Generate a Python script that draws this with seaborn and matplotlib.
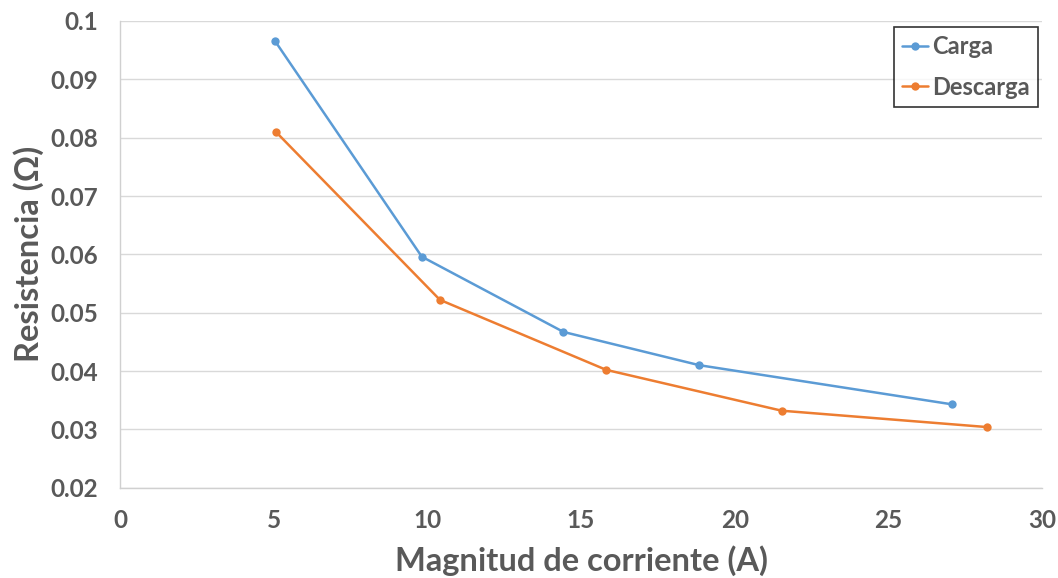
import matplotlib
matplotlib.use("Agg")
import matplotlib.pyplot as plt
import seaborn as sns
import pandas as pd

# Measured resistance versus current magnitude
carga_corriente = [5.04, 9.82, 14.43, 18.85, 27.06]
carga_resistencia = [0.0966, 0.0596, 0.0467, 0.0410, 0.0343]
descarga_corriente = [5.09, 10.41, 15.82, 21.53, 28.20]
descarga_resistencia = [0.0809, 0.0522, 0.0402, 0.0332, 0.0304]

series = ["Carga", "Descarga"]
colores = ["#5b9bd5", "#ed7d31"]
x_ticks = [0, 5, 10, 15, 20, 25, 30]
y_ticks = [0.02, 0.03, 0.04, 0.05, 0.06, 0.07, 0.08, 0.09, 0.1]
y_tick_labels = ["0.02", "0.03", "0.04", "0.05", "0.06", "0.07", "0.08", "0.09", "0.1"]

df = pd.concat([
    pd.DataFrame({"I": carga_corriente, "R": carga_resistencia, "serie": series[0]}),
    pd.DataFrame({"I": descarga_corriente, "R": descarga_resistencia, "serie": series[1]}),
])

sns.set_style("white")
plt.rcParams["font.family"] = ["Lato", "DejaVu Sans"]
gris = "#595959"

fig = plt.figure(figsize=(10.58, 5.78), dpi=100)
ax = fig.add_axes([0.1134, 0.1562, 0.8715, 0.8075])

sns.lineplot(data=df, x="I", y="R", hue="serie", palette=colores, marker="o",
             markersize=6, markeredgewidth=0, linewidth=1.8, sort=False,
             estimator=None, ax=ax)

ax.set_xlim(0, 30)
ax.set_ylim(0.02, 0.1)
ax.set_xticks(x_ticks)
ax.set_yticks(y_ticks)
ax.set_yticklabels(y_tick_labels)
ax.tick_params(axis="both", length=0, labelsize=17.5, labelcolor=gris)
ax.tick_params(axis="x", pad=15)
ax.tick_params(axis="y", pad=16)
for lab in ax.get_xticklabels() + ax.get_yticklabels():
    lab.set_fontweight("bold")

ax.grid(axis="y", color="#d9d9d9", linewidth=1)
ax.grid(axis="x", visible=False)
for s in ["top", "right"]:
    ax.spines[s].set_visible(False)
for s in ["left", "bottom"]:
    ax.spines[s].set_color("#d0d0d0")
    ax.spines[s].set_linewidth(1)

ax.set_xlabel("Magnitud de corriente (A)", fontsize=23.5, fontweight="bold",
              color=gris, labelpad=10)
ax.set_ylabel("Resistencia (Ω)", fontsize=23.5, fontweight="bold",
              color=gris, labelpad=4)

leg = ax.legend(loc="upper right", bbox_to_anchor=(0.9955, 0.988), frameon=True,
                fancybox=False, edgecolor="black", fontsize=17,
                handlelength=1.1, handletextpad=0.15, borderpad=0.35,
                labelspacing=0.75, borderaxespad=0, title=None)
leg.get_frame().set_linewidth(1.2)
for t in leg.get_texts():
    t.set_fontweight("bold")
    t.set_color(gris)

fig.savefig("out.png", dpi=100)
